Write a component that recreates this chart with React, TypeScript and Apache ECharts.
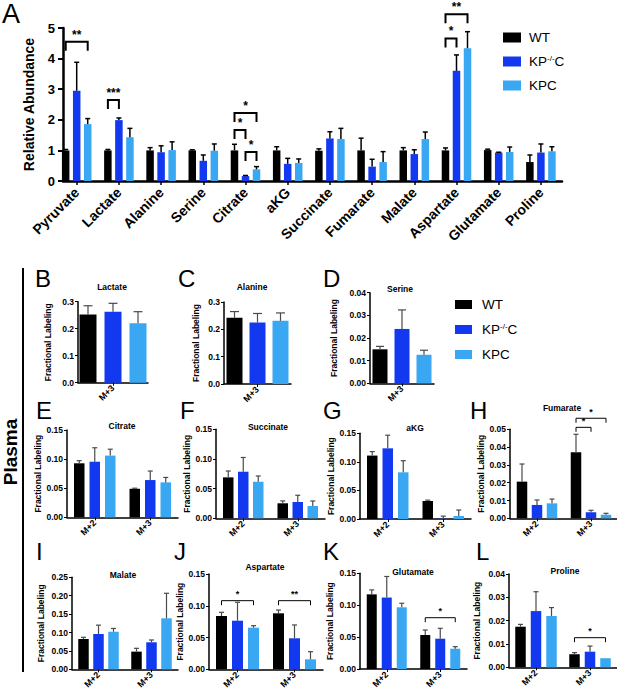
import React, { useEffect, useRef } from 'react';
import * as echarts from 'echarts';

const FONT = '"Liberation Sans", Arial, Helvetica, sans-serif';
const GROUPS = ['WT', 'KP-/-C', 'KPC'];
const COLORS = ['#000000', '#1238f0', '#3aa7f3'];

// ---- Panel A: relative abundance ----
const aCategories = ['Pyruvate', 'Lactate', 'Alanine', 'Serine', 'Citrate', 'aKG', 'Succinate', 'Fumarate', 'Malate', 'Aspartate', 'Glutamate', 'Proline'];
const aWT = [1.0, 1.0, 1.0, 1.0, 1.0, 1.0, 0.99, 1.0, 1.0, 1.0, 1.01, 0.62];
const aWTErr = [0.03, 0.03, 0.09, 0.02, 0.2, 0.12, 0.06, 0.4, 0.09, 0.08, 0.03, 0.23];
const aKP = [2.95, 1.99, 0.94, 0.66, 0.16, 0.56, 1.39, 0.47, 0.88, 3.6, 0.93, 0.93];
const aKPErr = [0.93, 0.07, 0.21, 0.19, 0.02, 0.18, 0.22, 0.24, 0.14, 0.52, 0.01, 0.28];
const aKPC = [1.86, 1.43, 1.01, 0.99, 0.38, 0.59, 1.37, 0.62, 1.37, 4.34, 0.95, 0.97];
const aKPCErr = [0.18, 0.29, 0.27, 0.22, 0.09, 0.13, 0.35, 0.34, 0.23, 0.54, 0.16, 0.15];
const aBrackets = [[0, 0, 2, 4.55], [1, 0, 1, 2.65], [4, 0, 2, 2.22], [4, 0, 1, 1.67], [4, 1, 2, 0.95], [9, 0, 2, 5.45], [9, 0, 1, 4.66]];
const aBracketLabels = ['**', '***', '*', '*', '*', '**', '*'];

// ---- Panels B-L: fractional labeling (rows: WT, KP-/-C, KPC) ----
const isoM3 = ['M+3'];
const isoM23 = ['M+2', 'M+3'];
const lactateMean = [[0.253], [0.263], [0.22]];
const lactateErr = [[0.032], [0.031], [0.043]];
const alanineMean = [[0.242], [0.225], [0.231]];
const alanineErr = [[0.023], [0.033], [0.029]];
const serineMean = [[0.015], [0.024], [0.0126]];
const serineErr = [[0.0013], [0.0084], [0.002]];
const citrateMean = [[0.0928, 0.049], [0.0955, 0.064], [0.106, 0.06]];
const citrateErr = [[0.0045, 0.001], [0.024, 0.0155], [0.011, 0.0085]];
const succinateMean = [[0.069, 0.0253], [0.0785, 0.0275], [0.0617, 0.0207]];
const succinateErr = [[0.0107, 0.004], [0.024, 0.0113], [0.0096, 0.0085]];
const akgMean = [[0.111, 0.0315], [0.1237, 0.0005], [0.0817, 0.0052]];
const akgErr = [[0.007, 0.0015], [0.023, 0.0045], [0.0203, 0.0105]];
const fumarateMean = [[0.0206, 0.0371], [0.0075, 0.0034], [0.0084, 0.002]];
const fumarateErr = [[0.0099, 0.0101], [0.0028, 0.0011], [0.0024, 0.0008]];
const malateMean = [[0.0823, 0.048], [0.096, 0.0734], [0.102, 0.1386]];
const malateErr = [[0.0047, 0.009], [0.024, 0.0063], [0.009, 0.068]];
const aspartateMean = [[0.0839, 0.0881], [0.0765, 0.0488], [0.0655, 0.0157]];
const aspartateErr = [[0.0058, 0.0052], [0.029, 0.021], [0.0031, 0.012]];
const glutamateMean = [[0.117, 0.0533], [0.112, 0.0475], [0.0967, 0.0318]];
const glutamateErr = [[0.007, 0.0078], [0.033, 0.0163], [0.0063, 0.0032]];
const prolineMean = [[0.0174, 0.0056], [0.0241, 0.0067], [0.022, 0.0039]];
const prolineErr = [[0.001, 0.0007], [0.0083, 0.0024], [0.0036, 0]];

const fumarateBrackets = [[1, 0, 2, 0.0562], [1, 0, 1, 0.0511]];
const fumarateBracketLabels = ['*', '*'];
const aspartateBrackets = [[0, 0, 2, 0.108], [1, 0, 2, 0.108]];
const aspartateBracketLabels = ['*', '**'];
const glutamateBrackets = [[1, 0, 2, 0.0804]];
const glutamateBracketLabels = ['*'];
const prolineBrackets = [[1, 0, 2, 0.0127]];
const prolineBracketLabels = ['*'];

const panels = [
  { title: 'Lactate', cats: isoM3, mean: lactateMean, err: lactateErr, max: 0.3, step: 0.1, dec: 1, br: [], brl: [], L: { left: 78, top: 301.7, width: 70, height: 81, bw: 17, gap: 8, cap: 9, ng: 26, tx: 112, ty: 287 } },
  { title: 'Alanine', cats: isoM3, mean: alanineMean, err: alanineErr, max: 0.3, step: 0.1, dec: 1, br: [], brl: [], L: { left: 224, top: 302, width: 67, height: 82, bw: 16, gap: 7, cap: 9, ng: 24, tx: 252, ty: 287 } },
  { title: 'Serine', cats: isoM3, mean: serineMean, err: serineErr, max: 0.04, step: 0.01, dec: 2, br: [], brl: [], L: { left: 370, top: 292.7, width: 64, height: 90.6, bw: 15, gap: 7, cap: 8, ng: 32, tx: 400, ty: 289 } },
  { title: 'Citrate', cats: isoM23, mean: citrateMean, err: citrateErr, max: 0.15, step: 0.05, dec: 2, br: [], brl: [], L: { left: 67, top: 430, width: 111, height: 87.3, bw: 10.5, gap: 5, cap: 5, ng: 24, tx: 122, ty: 426 } },
  { title: 'Succinate', cats: isoM23, mean: succinateMean, err: succinateErr, max: 0.15, step: 0.05, dec: 2, br: [], brl: [], L: { left: 216, top: 429.3, width: 109, height: 89, bw: 10.5, gap: 4.5, cap: 5, ng: 24, tx: 268, ty: 427 } },
  { title: 'aKG', cats: isoM23, mean: akgMean, err: akgErr, max: 0.15, step: 0.05, dec: 2, br: [], brl: [], L: { left: 360, top: 433.3, width: 111, height: 85.7, bw: 10.5, gap: 5, cap: 5, ng: 21, tx: 415, ty: 428 } },
  { title: 'Fumarate', cats: isoM23, mean: fumarateMean, err: fumarateErr, max: 0.05, step: 0.01, dec: 2, br: fumarateBrackets, brl: fumarateBracketLabels, L: { left: 510, top: 429.3, width: 108, height: 89, bw: 10.5, gap: 4.5, cap: 5, ng: 23, tx: 562, ty: 408 } },
  { title: 'Malate', cats: isoM23, mean: malateMean, err: malateErr, max: 0.25, step: 0.05, dec: 2, br: [], brl: [], L: { left: 72, top: 577.3, width: 106, height: 92, bw: 10.5, gap: 4.5, cap: 5, ng: 27, tx: 123, ty: 575 } },
  { title: 'Aspartate', cats: isoM23, mean: aspartateMean, err: aspartateErr, max: 0.15, step: 0.05, dec: 2, br: aspartateBrackets, brl: aspartateBracketLabels, L: { left: 209, top: 574, width: 114, height: 95.3, bw: 11, gap: 5, cap: 5, ng: 21, tx: 265, ty: 567 } },
  { title: 'Glutamate', cats: isoM23, mean: glutamateMean, err: glutamateErr, max: 0.15, step: 0.05, dec: 2, br: glutamateBrackets, brl: glutamateBracketLabels, L: { left: 360, top: 573.3, width: 107, height: 95.7, bw: 10, gap: 5, cap: 5, ng: 26, tx: 413, ty: 572 } },
  { title: 'Proline', cats: isoM23, mean: prolineMean, err: prolineErr, max: 0.04, step: 0.01, dec: 2, br: prolineBrackets, brl: prolineBracketLabels, L: { left: 509, top: 574, width: 108, height: 93.3, bw: 10.5, gap: 5, cap: 5, ng: 28, tx: 565, ty: 571 } },
];

const letters = [
  { t: 'A', x: 2, y: 14, s: 27 },
  { t: 'B', x: 35, y: 278, s: 24 }, { t: 'C', x: 178, y: 278, s: 24 }, { t: 'D', x: 323, y: 278, s: 24 },
  { t: 'E', x: 36, y: 410, s: 24 }, { t: 'F', x: 180, y: 410, s: 24 }, { t: 'G', x: 323, y: 410, s: 24 }, { t: 'H', x: 470, y: 410, s: 24 },
  { t: 'I', x: 36, y: 551, s: 24 }, { t: 'J', x: 174, y: 551, s: 24 }, { t: 'K', x: 323, y: 551, s: 24 }, { t: 'L', x: 476, y: 551, s: 24 },
];

function errorSeries(axis: number, means: number[][], errs: number[][], bw: number, gap: number, cap: number, color: string, lw: number) {
  const data: number[][] = [];
  means.forEach((row, s) => row.forEach((m, c) => data.push([c, s, m, errs[s][c]])));
  return {
    type: 'custom', xAxisIndex: axis, yAxisIndex: axis, silent: true, z: 3,
    encode: { x: 0, y: 2 },
    data,
    renderItem: (params: any, api: any) => {
      const c = api.value(0), s = api.value(1), m = api.value(2), e = api.value(3);
      if (!e) return null;
      const base = api.coord([c, m]);
      const top = api.coord([c, m + e]);
      const x = base[0] + (s - 1) * (bw + gap);
      const st = { stroke: color, lineWidth: lw };
      return {
        type: 'group', children: [
          { type: 'line', shape: { x1: x, y1: base[1], x2: x, y2: top[1] }, style: st },
          { type: 'line', shape: { x1: x - cap / 2, y1: top[1], x2: x + cap / 2, y2: top[1] }, style: st },
        ],
      };
    },
  };
}

function bracketSeries(axis: number, br: number[][], labels: string[], bw: number, gap: number, leg: number, lw: number, fs: number, off: number) {
  return {
    type: 'custom', xAxisIndex: axis, yAxisIndex: axis, silent: true, z: 4, clip: false,
    encode: { x: 0, y: 3 },
    data: br,
    renderItem: (params: any, api: any) => {
      const b = br[params.dataIndex];
      const p = api.coord([b[0], b[3]]);
      const x1 = p[0] + (b[1] - 1) * (bw + gap);
      const x2 = p[0] + (b[2] - 1) * (bw + gap);
      const y = p[1];
      return {
        type: 'group', children: [
          { type: 'polyline', shape: { points: [[x1, y + leg], [x1, y], [x2, y], [x2, y + leg]] }, style: { stroke: '#000', lineWidth: lw, fill: null } },
          { type: 'text', x: (x1 + x2) / 2, y: y - off, style: { text: labels[params.dataIndex], fill: '#000', fontSize: fs, fontWeight: 'bold', fontFamily: FONT, textAlign: 'center', align: 'center', textVerticalAlign: 'bottom', verticalAlign: 'bottom' } },
        ],
      };
    },
  };
}

function legendFmt(name: string) {
  return name === 'KP-/-C' ? 'KP{sup|-/-}C' : name;
}

function buildOption() {
  const grid: any[] = [], xAxis: any[] = [], yAxis: any[] = [], series: any[] = [], title: any[] = [];
  const black = '#000';

  // Panel A data grid
  grid.push({ left: 55.6, top: 28, width: 506.4, height: 153, outerBoundsMode: 'none' });
  xAxis.push({
    type: 'category', gridIndex: 0, data: aCategories,
    axisLine: { show: false },
    axisTick: { show: true, alignWithLabel: true, length: 4, lineStyle: { color: black, width: 1.5 } },
    axisLabel: { interval: 0, rotate: 45, margin: 9, color: black, fontSize: 14, fontWeight: 'bold', fontFamily: FONT },
    splitLine: { show: false },
  });
  yAxis.push({ type: 'value', gridIndex: 0, min: 0, max: 5, interval: 1, show: false });
  // Panel A frame grid (axis lines)
  grid.push({ left: 63, top: 28, width: 499, height: 153, outerBoundsMode: 'none' });
  xAxis.push({ type: 'value', gridIndex: 1, min: 0, max: 1, axisLine: { show: true, onZero: false, lineStyle: { color: black, width: 2.5 } }, axisTick: { show: false }, axisLabel: { show: false }, splitLine: { show: false } });
  yAxis.push({
    type: 'value', gridIndex: 1, min: 0, max: 5, interval: 1,
    axisLine: { show: true, onZero: false, lineStyle: { color: black, width: 2.5 } },
    axisTick: { show: true, length: 5, lineStyle: { color: black, width: 2 } },
    axisLabel: { color: black, fontSize: 13, fontWeight: 'bold', margin: 8, fontFamily: FONT },
    splitLine: { show: false },
    name: 'Relative Abundance', nameLocation: 'middle', nameGap: 27,
    nameTextStyle: { color: black, fontSize: 14, fontWeight: 'bold', fontFamily: FONT },
  });
  const aMeans = [aWT, aKP, aKPC];
  const aErrs = [aWTErr, aKPErr, aKPCErr];
  GROUPS.forEach((g, s) => series.push({
    type: 'bar', name: g, xAxisIndex: 0, yAxisIndex: 0, data: aMeans[s], barWidth: 7.5, barGap: '47%',
    itemStyle: { color: COLORS[s] }, silent: true,
  }));
  series.push(errorSeries(0, aMeans, aErrs, 7.5, 3.5, 5, black, 1.5));
  series.push(bracketSeries(0, aBrackets, aBracketLabels, 7.5, 3.5, 9, 2, 12, 1));

  panels.forEach((p, i) => {
    const idx = i + 2;
    const L = p.L;
    grid.push({ left: L.left, top: L.top, width: L.width, height: L.height, outerBoundsMode: 'none' });
    xAxis.push({
      type: 'category', gridIndex: idx, data: p.cats,
      axisLine: { show: true, lineStyle: { color: black, width: 1.5 } },
      axisTick: { show: true, alignWithLabel: true, length: 3, lineStyle: { color: black, width: 1 } },
      axisLabel: { interval: 0, rotate: 45, margin: 4, color: black, fontSize: 9, fontWeight: 'bold', fontFamily: FONT },
      splitLine: { show: false },
    });
    yAxis.push({
      type: 'value', gridIndex: idx, min: 0, max: p.max, interval: p.step,
      axisLine: { show: true, onZero: false, lineStyle: { color: black, width: 1.5 } },
      axisTick: { show: true, length: 3, lineStyle: { color: black, width: 1 } },
      axisLabel: { color: black, fontSize: 8.5, fontWeight: 'bold', margin: 4, fontFamily: FONT, formatter: (v: number) => v.toFixed(p.dec) },
      splitLine: { show: false },
      name: 'Fractional Labeling', nameLocation: 'middle', nameGap: L.ng,
      nameTextStyle: { color: black, fontSize: 8.5, fontWeight: 'bold', fontFamily: FONT },
    });
    GROUPS.forEach((g, s) => series.push({
      type: 'bar', name: g, xAxisIndex: idx, yAxisIndex: idx, data: p.mean[s], barWidth: L.bw,
      barGap: (L.gap / L.bw * 100).toFixed(1) + '%', itemStyle: { color: COLORS[s] }, silent: true,
    }));
    series.push(errorSeries(idx, p.mean, p.err, L.bw, L.gap, L.cap, '#4a4a4a', 1.2));
    if (p.br.length) series.push(bracketSeries(idx, p.br, p.brl, L.bw, L.gap, 4.5, 1, 9, 2));
    title.push({
      text: p.title, left: L.tx, top: L.ty, textAlign: 'center', textVerticalAlign: 'middle', padding: 0,
      textStyle: { fontSize: 8.5, fontWeight: 'bold', color: black, fontFamily: FONT },
    });
  });

  const legendBase = {
    orient: 'vertical', icon: 'rect', padding: 0, selectedMode: false, data: GROUPS, formatter: legendFmt,
  };
  const legend = [
    { ...legendBase, left: 503, top: 30.5, itemWidth: 18, itemHeight: 10, itemGap: 10,
      textStyle: { fontSize: 13.5, color: black, fontFamily: FONT, padding: [0, 0, 0, 3], rich: { sup: { fontSize: 8, verticalAlign: 'top', fontFamily: FONT, color: black } } } },
    { ...legendBase, left: 455, top: 297.5, itemWidth: 17, itemHeight: 9, itemGap: 11,
      textStyle: { fontSize: 13.5, color: black, fontFamily: FONT, padding: [0, 0, 0, 5], rich: { sup: { fontSize: 8, verticalAlign: 'top', fontFamily: FONT, color: black } } } },
  ];

  const elements: any[] = letters.map((l) => ({
    type: 'text', x: l.x, y: l.y, silent: true,
    style: { text: l.t, fill: black, fontSize: l.s, fontFamily: FONT, textAlign: 'left', align: 'left', textVerticalAlign: 'middle', verticalAlign: 'middle' },
  }));
  elements.push({
    type: 'text', x: 10, y: 452, rotation: Math.PI / 2, silent: true,
    style: { text: 'Plasma', fill: black, fontSize: 19, fontWeight: 'bold', fontFamily: FONT, textAlign: 'center', align: 'center', textVerticalAlign: 'middle', verticalAlign: 'middle' },
  });
  elements.push({ type: 'line', silent: true, shape: { x1: 23, y1: 268, x2: 23, y2: 672 }, style: { stroke: black, lineWidth: 2 } });

  return {
    animation: false,
    backgroundColor: '#ffffff',
    grid, xAxis, yAxis, series, title, legend,
    graphic: { elements },
  };
}

export default function App() {
  const ref = useRef<HTMLDivElement>(null);
  useEffect(() => {
    if (!ref.current) return;
    const chart = echarts.init(ref.current, null, { renderer: 'svg' });
    chart.setOption(buildOption() as any);
    return () => chart.dispose();
  }, []);
  return <div ref={ref} style={{ position: 'fixed', left: 0, top: 0, width: 617, height: 692, background: '#fff' }} />;
}
